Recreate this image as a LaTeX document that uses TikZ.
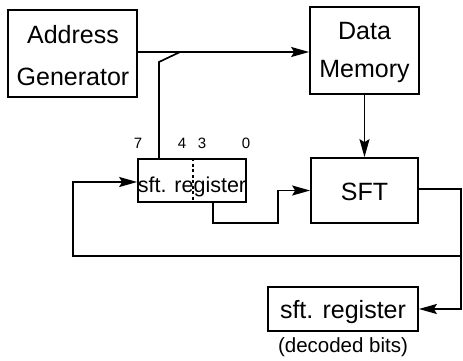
\documentclass[tikz,border=0pt]{standalone}
\usepackage{fontspec}
\setmainfont{Liberation Sans}
\usetikzlibrary{arrows.meta}
\begin{document}
\begin{tikzpicture}[x=1pt,y=-1pt,
  blk/.style={draw, line width=1.7pt, inner sep=0pt},
  wire/.style={line width=1.7pt},
  arr/.style={wire, -{Stealth[length=18pt,width=10pt,inset=3pt]}},
  txt/.style={inner sep=0pt, anchor=base, font=\fontsize{25}{28}\selectfont},
  reg/.style={inner sep=0pt, anchor=base, font=\fontsize{21.5}{24}\selectfont},
  note/.style={inner sep=0pt, anchor=base, font=\fontsize{20.5}{24}\selectfont},
  bit/.style={inner sep=0pt, anchor=base, font=\fontsize{15}{17}\selectfont}
]
\useasboundingbox (0,0) rectangle (463,360);

% blocks
\node[blk, minimum width=129pt, minimum height=87pt] (ag) at (72.5,53.5) {};
\node[txt] (agt1) at (73,43) {Address};
\node[txt] (agt2) at (73,85) {Generator};

\node[blk, minimum width=109pt, minimum height=87pt] (dm) at (364.5,50.5) {};
\node[txt] (dmt1) at (364.5,39) {Data};
\node[txt] (dmt2) at (364.5,77) {Memory};

\node[blk, minimum width=108pt, minimum height=43pt] (sr) at (192,180.5) {};
\draw[line width=1.2pt, dash pattern=on 3pt off 2.5pt] (sr.north -| 193,0) -- (sr.south -| 193,0);
\node[reg] (srt) at (192,192) {sft. register};
\node[bit] (b7) at (138,148) {7};
\node[bit] (b4) at (182,148) {4};
\node[bit] (b3) at (202,148) {3};
\node[bit] (b0) at (246,148) {0};

\node[blk, minimum width=107pt, minimum height=65pt] (sft) at (364.5,190.5) {};
\node[txt] (sftt) at (364.5,200) {SFT};

\node[blk, minimum width=150pt, minimum height=44pt] (out) at (343,309) {};
\node[txt] (outt) at (343,318) {sft. register};
\node[note] (outn) at (343,352) {(decoded bits)};

% address bus and its tap into the shift register
\draw[arr] (ag.east |- 0,52) -- (dm.west |- 0,52);
\coordinate (tap) at (180,52);
\coordinate (kink) at (159,62);
\draw[wire] (tap) -- (kink) -- (kink |- sr.north);

% data path
\draw[arr] (dm.south) -- (sft.north);
\draw[arr] (sr.south -| 213,0) |- (278,223) |- (sft.west);

% SFT output: to the decoded register and fed back
\coordinate (rt) at (461,189);
\draw[arr] (sft.east |- rt) -- (rt) |- (out.east);
\draw[arr] (rt |- 0,256) -| (73,182) -- (sr.west |- 0,182);
\end{tikzpicture}
\end{document}
